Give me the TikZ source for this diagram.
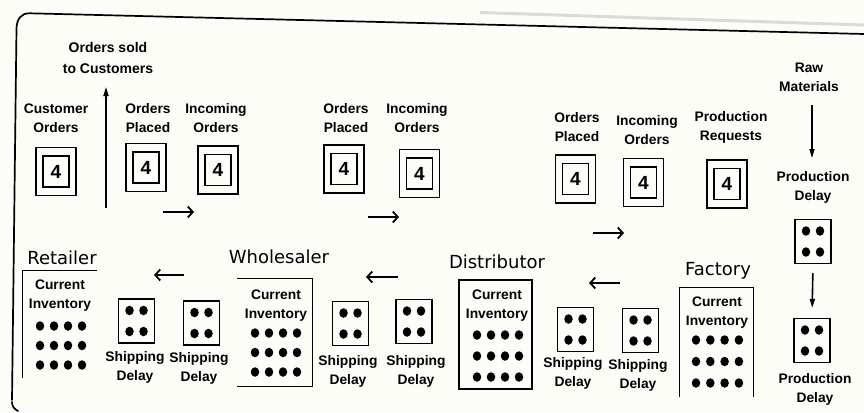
\documentclass[tikz,border=0pt]{standalone}
\usepackage{fontspec}
\usetikzlibrary{arrows.meta}
\newfontfamily\lblfamily{Liberation Sans}
\newfontfamily\headfamily{DejaVu Sans}
\definecolor{paper}{RGB}{253,253,248}
\definecolor{scan}{RGB}{218,218,218}
\newcommand\lblfont{\lblfamily\bfseries\fontsize{13.8}{19}\selectfont}
\newcommand\headfont{\headfamily\fontsize{18}{20}\selectfont}
\newcommand\digitfont{\lblfamily\bfseries\fontsize{19}{20}\selectfont}
\tikzset{
  lbl/.style={font=\lblfont, align=center, inner sep=0pt},
  head/.style={font=\headfont, inner sep=0pt},
  obox/.style={draw, line width=1.1pt, minimum width=40pt, minimum height=48pt, inner sep=0pt},
  ibox/.style={draw, line width=1.1pt, minimum width=26pt, minimum height=31pt, inner sep=0pt, font=\digitfont},
  dbox/.style={draw, line width=1.1pt, minimum width=36pt, minimum height=44pt, inner sep=0pt},
  invbox/.style={draw=none, inner sep=0pt},
  invside/.style={line width=1.1pt},
  dot/.style={fill, ellipse, minimum width=8.5pt, minimum height=9.5pt, inner sep=0pt},
  harrow/.style={line width=1.8pt, -{Straight Barb[length=5pt,width=11pt]}},
  varrow/.style={line width=1.6pt, -{Triangle[length=9pt,width=5pt]}},
  frame/.style={line width=1.7pt, line cap=round},
}
\usetikzlibrary{shapes.geometric}
% ordering box with digit: name, cx, cy
\newcommand\ordbox[3]{%
  \node[obox] (#1) at (#2,#3) {};
  \node[ibox] (#1i) at (#2,#3) {4};}
% delay box with four dots: name, cx, cy
\newcommand\delaybox[3]{%
  \node[dbox] (#1) at (#2,#3) {};
  \node[dot] (#1a) at ([shift={(-7,-10.5)}]#1.center) {};
  \node[dot] (#1b) at ([shift={(7,-10.5)}]#1.center) {};
  \node[dot] (#1c) at ([shift={(-7,10.5)}]#1.center) {};
  \node[dot] (#1d) at ([shift={(7,10.5)}]#1.center) {};}
% inventory dots: name, x1, dx, y1, dy
\newcommand\invdots[5]{%
  \foreach \r in {0,1,2}{\foreach \c in {0,1,2,3}{
    \node[dot] (#1-\r-\c) at ({#2+\c*#3},{#4+\r*#5}) {};}}}
\begin{document}
\begin{tikzpicture}[x=1pt,y=-1pt]
\fill[paper] (0,0) rectangle (864,412);
\useasboundingbox (0,0) rectangle (864,412);
% frame
\draw[scan, line width=3pt] (480,12.5) -- (864,25);
\draw[frame] (864,34) -- (30,13.3) .. controls (21,13) and (17,19) .. (16.5,28) -- (12,400);
\draw[frame] (12,402) .. controls (12,406) and (14,409) .. (18,411);

% top labels
\node[lbl, font=\lblfamily\bfseries\fontsize{14}{21}\selectfont] (sold) at (108,57.5) {Orders sold\\to Customers};
\node[lbl] (lco) at (56,118.5) {Customer\\Orders};
\node[lbl] (lop1) at (148,118.5) {Orders\\Placed};
\node[lbl] (lio1) at (216,118.5) {Incoming\\Orders};
\node[lbl] (lop2) at (346,118.5) {Orders\\Placed};
\node[lbl] (lio2) at (417,118.5) {Incoming\\Orders};
\node[lbl] (lop3) at (577,127.5) {Orders\\Placed};
\node[lbl] (lio3) at (647,130) {Incoming\\Orders};
\node[lbl] (lpr) at (731,127) {Production\\Requests};
\node[lbl] (lraw) at (809,77) {Raw\\Materials};
\node[lbl] (lpd1) at (813,187) {Production\\Delay};
\node[lbl] (lpd2) at (815,389.5) {Production\\Delay};

% order boxes
\ordbox{co}{56}{171.5}
\ordbox{op1}{146}{167.5}
\ordbox{io1}{218}{170}
\ordbox{op2}{344}{169}
\ordbox{io2}{419.5}{173.5}
\ordbox{op3}{575.5}{179}
\ordbox{io3}{643.5}{182.5}
\ordbox{pr}{727}{184}

% production delay boxes
\delaybox{pd1}{813}{241.5}
\delaybox{pd2}{812}{340.5}

% headings
\node[head] (hret) at (62,258) {Retailer};
\node[head] (hwho) at (279,257) {Wholesaler};
\node[head] (hdis) at (497,262) {Distributor};
\node[head] (hfac) at (718,271) {Factory};

% inventory boxes
\node[invbox, minimum width=74pt, minimum height=107pt] (ret) at (60,324.5) {};
\draw[invside] (ret.south west) -- (ret.north west) -- (ret.north east);
\node[lbl] (ret-t) at (60,296) {Current\\Inventory};
\invdots{ret}{40}{14}{326}{19.5}

\node[invbox, minimum width=75pt, minimum height=107pt] (who) at (275,332.5) {};
\draw[invside] (who.north west) -- (who.north east) -- (who.south east) -- (who.south west);
\node[lbl] (who-t) at (276,305.5) {Current\\Inventory};
\invdots{who}{255}{14}{333}{19.5}

\node[draw, line width=1.1pt, minimum width=73pt, minimum height=109pt, inner sep=0pt] (dis) at (495.5,334.5) {};
\node[lbl] (dis-t) at (497,306) {Current\\Inventory};
\invdots{dis}{477}{14}{335}{21}

\node[invbox, minimum width=73pt, minimum height=109pt] (fac) at (716.5,342.5) {};
\draw[invside] (fac.south west) -- (fac.north west) -- (fac.north east) -- (fac.south east);
\node[lbl] (fac-t) at (717,312.5) {Current\\Inventory};
\invdots{fac}{696}{14.3}{340}{21.5}

% shipping delay boxes
\delaybox{rs1}{136.5}{321}
\delaybox{rs2}{201.5}{323}
\delaybox{ws1}{350.5}{323.5}
\delaybox{ws2}{414}{321.5}
\delaybox{ds1}{575.5}{329.5}
\delaybox{ds2}{640.5}{330.5}

\node[lbl] (lrs1) at (135,367.5) {Shipping\\Delay};
\node[lbl] (lrs2) at (199,368) {Shipping\\Delay};
\node[lbl] (lws1) at (348,371.5) {Shipping\\Delay};
\node[lbl] (lws2) at (416,371.5) {Shipping\\Delay};
\node[lbl] (lds1) at (573,373) {Shipping\\Delay};
\node[lbl] (lds2) at (638,375) {Shipping\\Delay};

% arrows
\coordinate (up0) at (106,208);
\coordinate (up1) at (106,87);
\draw[varrow] (up0) -- (up1);

\coordinate (r1a) at (163,212); \coordinate (r1b) at (194,212);
\coordinate (r2a) at (368,217); \coordinate (r2b) at (399,217);
\coordinate (r3a) at (593,233); \coordinate (r3b) at (624,233);
\draw[harrow] (r1a) -- (r1b);
\draw[harrow] (r2a) -- (r2b);
\draw[harrow] (r3a) -- (r3b);

\coordinate (l1a) at (184,275); \coordinate (l1b) at (154,275);
\coordinate (l2a) at (398,277); \coordinate (l2b) at (366,277);
\coordinate (l3a) at (620,283); \coordinate (l3b) at (589,283);
\draw[harrow] (l1a) -- (l1b);
\draw[harrow] (l2a) -- (l2b);
\draw[harrow] (l3a) -- (l3b);

\coordinate (rawa) at (812,105); \coordinate (rawb) at (812,158);
\draw[varrow] (rawa) -- (rawb);
\draw[varrow, shorten <=9pt, shorten >=10pt] (pd1.south) -- (pd2.north);
\end{tikzpicture}
\end{document}
